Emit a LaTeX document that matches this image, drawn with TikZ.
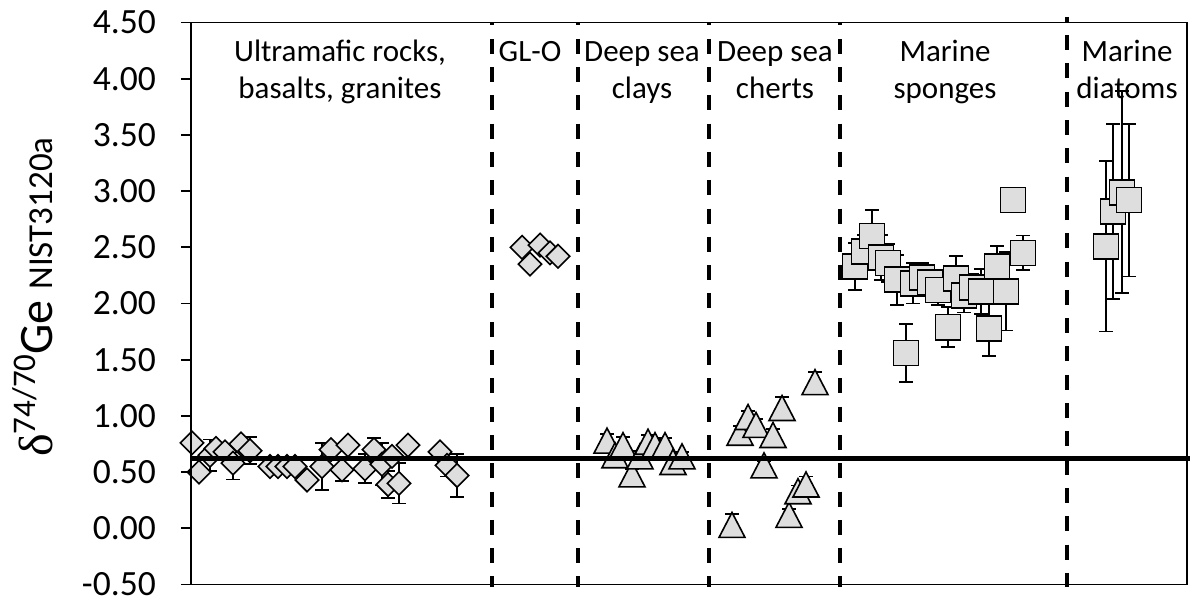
\documentclass[tikz,border=0pt]{standalone}
\usepackage{fontspec}
\setmainfont{Carlito}
\newfontfamily\deltafont{Liberation Serif}
\usetikzlibrary{shapes.geometric}

\definecolor{markfill}{HTML}{DEDEDE}

\begin{document}
\begin{tikzpicture}[x=1pt,y=1pt,
  axisline/.style={line width=1.8pt},
  sepline/.style={line width=3.6pt, dash pattern=on 15pt off 13.3pt},
  refline/.style={line width=4.5pt},
  errbar/.style={line width=1.8pt},
  diamark/.style={diamond, draw, line width=1.6pt, fill=markfill, inner sep=0pt, minimum width=24pt, minimum height=24pt},
  sqmark/.style={rectangle, draw, line width=1.8pt, fill=markfill, inner sep=0pt, minimum size=25pt},
  trimark/.style={draw, line width=1.6pt, fill=markfill, line join=miter},
  ticklbl/.style={anchor=east, inner sep=0pt, font=\fontsize{35.5}{42}\selectfont},
  grouplbl/.style={anchor=north, align=center, inner sep=0pt, font=\fontsize{31}{37}\selectfont}]

  \useasboundingbox (0,0) rectangle (1190,607);

  % y axis title
  \node[rotate=90, anchor=base west, inner sep=0pt, font=\fontsize{48}{56}\selectfont] (ytitle) at (52,150)
    {{\deltafont δ}\raisebox{17pt}{\fontsize{33}{38}\selectfont 74/70}Ge {\fontsize{35}{40}\selectfont NIST3120a}};

  \begin{scope}[y=112.4pt, yshift=78.7pt]
  % error bars (behind the markers)
  \foreach \x/\v/\e in {192/0.76/0, 199/0.50/0, 210/0.65/0.14, 216/0.71/0, 225/0.68/0, 233/0.58/0.145,
      241/0.75/0, 250/0.69/0.12, 270/0.55/0, 278/0.55/0, 287/0.55/0, 295/0.55/0, 307/0.43/0,
      322/0.55/0.21, 331/0.70/0, 342/0.52/0.10, 348/0.74/0, 365/0.53/0.13, 374/0.70/0.10,
      382/0.57/0.19, 388/0.39/0.12, 392/0.64/0, 399/0.40/0.18, 408/0.74/0, 440/0.68/0,
      447/0.56/0.10, 457/0.47/0.19, 522/2.50/0, 530/2.35/0, 540/2.52/0, 550/2.45/0, 558/2.42/0,
      607/0.78/0.06, 615/0.65/0.05, 623/0.74/0.075, 632/0.48/0.05, 640/0.64/0.05, 648/0.77/0.06,
      655/0.74/0.05, 665/0.74/0.06, 673/0.59/0.04, 682/0.64/0.04,
      732/0.03/0.10, 740/0.85/0.06, 748/0.99/0.05, 756/0.92/0.05, 764/0.56/0.04, 773/0.83/0.05,
      782/1.07/0.10, 789/0.12/0.05, 798/0.33/0.05, 806/0.39/0.07, 815/1.30/0.09,
      855/2.33/0.21, 864/2.46/0.15, 872/2.60/0.23, 881/2.41/0.20, 888/2.36/0.17, 897/2.21/0.22,
      906/1.56/0.26, 913/2.18/0.18, 922/2.23/0.13, 930/2.19/0.10, 938/2.12/0.13, 948/1.79/0.18,
      956/2.22/0.20, 964/2.07/0.15, 972/2.14/0.12, 981/2.11/0.20, 989/1.78/0.25, 997/2.33/0.18,
      1006/2.11/0.35, 1013/2.92/0, 1023/2.45/0.155,
      1106/2.51/0.76, 1113/2.82/0.78, 1122/2.99/0.90, 1129/2.92/0.68}
    \draw[errbar] (\x,\v-\e) -- (\x,\v+\e)
      ([xshift=-7pt]\x,\v+\e) -- ([xshift=7pt]\x,\v+\e)
      ([xshift=-7pt]\x,\v-\e) -- ([xshift=7pt]\x,\v-\e);

  % rocks and GL-O
  \foreach \x/\v in {192/0.76, 199/0.50, 210/0.65, 216/0.71, 225/0.68, 233/0.58, 241/0.75, 250/0.69,
      270/0.55, 278/0.55, 287/0.55, 295/0.55, 307/0.43, 322/0.55, 331/0.70, 342/0.52, 348/0.74,
      365/0.53, 374/0.70, 382/0.57, 388/0.39, 392/0.64, 399/0.40, 408/0.74, 440/0.68, 447/0.56,
      457/0.47, 522/2.50, 540/2.52, 530/2.35, 550/2.45, 558/2.42}
    \node[diamark] at (\x,\v) {};

  % clays and cherts
  \foreach \x/\v in {607/0.78, 615/0.65, 623/0.74, 632/0.48, 640/0.64, 648/0.77, 655/0.74, 665/0.74,
      673/0.59, 682/0.64, 732/0.03, 740/0.85, 748/0.99, 756/0.92, 764/0.56, 773/0.83, 782/1.07,
      789/0.12, 798/0.33, 806/0.39, 815/1.30}
    \draw[trimark] ([yshift=12.5pt]\x,\v) -- ([shift={(13pt,-12.5pt)}]\x,\v)
      -- ([shift={(-13pt,-12.5pt)}]\x,\v) -- cycle;

  % sponges and diatoms
  \foreach \x/\v in {855/2.33, 864/2.46, 872/2.60, 881/2.41, 888/2.36, 897/2.21, 906/1.56, 913/2.18,
      922/2.23, 930/2.19, 938/2.12, 948/1.79, 956/2.22, 964/2.07, 972/2.14, 981/2.11, 989/1.78,
      997/2.33, 1006/2.11, 1013/2.92, 1023/2.45, 1106/2.51, 1113/2.82, 1122/2.99, 1129/2.92}
    \node[sqmark] at (\x,\v) {};

  \draw[refline] (191,0.62) -- (1190,0.62);

  % group separators
  \foreach \x in {492,578,709,840}
    \draw[sepline, dash phase=12pt] (\x,4.5) -- (\x,-0.52);
  \draw[sepline, dash phase=10pt] (1067,4.55) -- (1067,-0.52);

  % frame and ticks
  \draw[axisline] (191,-0.5) rectangle (1187,4.5);
  \foreach \t in {-0.50,0.00,0.50,1.00,1.50,2.00,2.50,3.00,3.50,4.00,4.50} {
    \draw[axisline] (181,\t) -- (191,\t);
    \node[ticklbl] at (156,\t) {\t};
  }

  \node[grouplbl] (rocks)   at (340,4.374)  {\rule{0pt}{0.8em}Ultramafic rocks,\\basalts, granites};
  \node[grouplbl] (glo)     at (530,4.374)  {\rule{0pt}{0.8em}GL-O};
  \node[grouplbl] (clays)   at (642,4.374)  {\rule{0pt}{0.8em}Deep sea\\clays};
  \node[grouplbl] (cherts)  at (775,4.374)  {\rule{0pt}{0.8em}Deep sea\\cherts};
  \node[grouplbl] (sponges) at (945,4.374)  {\rule{0pt}{0.8em}Marine\\sponges};
  \node[grouplbl] (diatoms) at (1127,4.374) {\rule{0pt}{0.8em}Marine\\diatoms};
  \end{scope}
\end{tikzpicture}
\end{document}
